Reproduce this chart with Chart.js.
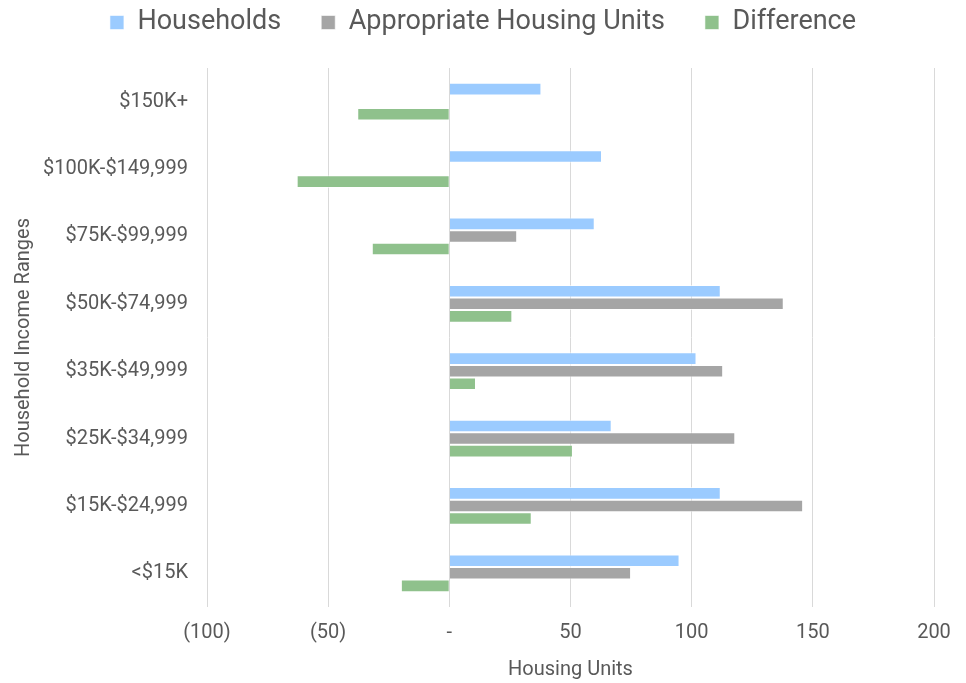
<!DOCTYPE html>
<html lang="en">
<head>
    <meta charset="UTF-8">
    <script src="https://cdn.jsdelivr.net/npm/chart.js"></script>
    <title>Housing Units by Household Income</title>
    <style>
        body {
            margin: 0;
            padding: 0;
            background: #ffffff;
        }
        .chart-box {
            width: 966px;
            height: 683px;
        }
    </style>
</head>
<body>
    <div class="chart-box">
        <canvas id="housingChart"></canvas>
    </div>

    <script>
        const incomeRanges = ['$150K+', '$100K-$149,999', '$75K-$99,999', '$50K-$74,999',
            '$35K-$49,999', '$25K-$34,999', '$15K-$24,999', '<$15K'];
        const households = [38, 63, 60, 112, 102, 67, 112, 95];
        const appropriateUnits = [0, 0, 28, 138, 113, 118, 146, 75];
        const difference = [-38, -63, -32, 26, 11, 51, 34, -20];
        const xTicks = [-100, -50, 0, 50, 100, 150, 200];

        const textColor = '#595959';
        Chart.defaults.font.family = 'Roboto, sans-serif';
        Chart.defaults.color = textColor;

        function accounting(v) {
            if (v === 0) return '-';
            if (v < 0) return '(' + (-v) + ')';
            return String(v);
        }

        // more room under the legend, and centre it on the whole canvas
        const legendSpacing = {
            id: 'legendSpacing',
            beforeInit(chart) {
                const fit = chart.legend.fit;
                chart.legend.fit = function () {
                    fit.call(this);
                    this.height += 22;
                };
            },
            afterLayout(chart) {
                chart.legend.left = 0;
                chart.legend.right = chart.width;
            }
        };

        const ctx = document.getElementById('housingChart').getContext('2d');
        new Chart(ctx, {
            type: 'bar',
            data: {
                labels: incomeRanges,
                datasets: [
                    { label: 'Households', data: households, backgroundColor: '#9bcbff' },
                    { label: 'Appropriate Housing Units', data: appropriateUnits, backgroundColor: '#a5a5a5' },
                    { label: 'Difference', data: difference, backgroundColor: '#8fc18c' }
                ]
            },
            plugins: [legendSpacing],
            options: {
                indexAxis: 'y',
                responsive: true,
                maintainAspectRatio: false,
                animation: false,
                datasets: {
                    bar: {
                        categoryPercentage: 0.56,
                        barPercentage: 1.0,
                        borderWidth: 1,
                        borderColor: 'rgba(255,255,255,0.6)'
                    }
                },
                layout: {
                    padding: { top: -31, left: 9, right: 32, bottom: 1 }
                },
                plugins: {
                    legend: {
                        position: 'top',
                        labels: {
                            boxWidth: 14,
                            boxHeight: 14,
                            padding: 40,
                            color: textColor,
                            font: { size: 27 }
                        }
                    },
                    tooltip: { enabled: false }
                },
                scales: {
                    x: {
                        min: -100,
                        max: 200,
                        afterBuildTicks: axis => {
                            axis.ticks = xTicks.map(v => ({ value: v }));
                        },
                        afterFit: axis => {
                            axis.height = 75;
                        },
                        grid: {
                            color: '#d9d9d9',
                            lineWidth: 1,
                            drawTicks: false
                        },
                        border: { display: false },
                        ticks: {
                            padding: 14,
                            font: { size: 20 },
                            color: textColor,
                            callback: v => accounting(v)
                        },
                        title: {
                            display: true,
                            text: 'Housing Units',
                            font: { size: 20 },
                            color: textColor,
                            padding: { top: 0, bottom: 0 }
                        }
                    },
                    y: {
                        afterFit: axis => {
                            axis.width = 198;
                        },
                        grid: { display: false, drawTicks: false },
                        border: { display: false },
                        ticks: {
                            padding: 19,
                            font: { size: 20 },
                            color: textColor
                        },
                        title: {
                            display: true,
                            text: 'Household Income Ranges',
                            font: { size: 20 },
                            color: textColor,
                            padding: { top: 3, bottom: 4 }
                        }
                    }
                }
            }
        });
    </script>
</body>
</html>
